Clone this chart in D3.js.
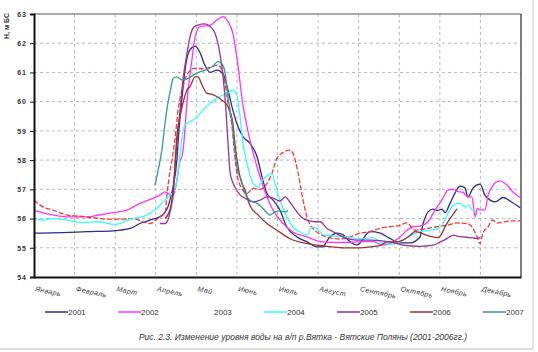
<!DOCTYPE html>
<html>
<head>
<meta charset="utf-8">
<script src="https://cdn.jsdelivr.net/npm/d3@7/dist/d3.min.js"></script>
<style>
    body { margin: 0; background: #fff; }
    svg { font-family: Arial, "Liberation Sans", sans-serif; display: block; }
</style>
</head>
<body>
<svg id="chart" width="538" height="352"></svg>
<script>
// Month labels (x = month index, 0..12)
const months = ['Январь', 'Февраль', 'Март', 'Апрель', 'Май', 'Июнь',
                'Июль', 'Август', 'Сентябрь', 'Октябрь', 'Ноябрь', 'Декабрь'];
const yTicks = [54, 55, 56, 57, 58, 59, 60, 61, 62, 63];

// Water level, m BS: [month position, level]
const y2001 = [[0,55.5],[0.71,55.52],[1.31,55.55],[1.95,55.58],[2.37,55.66],[2.61,55.83],[2.93,55.98],[3.10,56.06],[3.22,56.2],[3.30,56.4],[3.38,56.8],[3.43,57.1],[3.52,58.0],[3.57,59.0],[3.65,60.16],[3.72,61.08],[3.84,61.77],[3.97,61.9],[4.09,61.68],[4.21,61.25],[4.34,61.0],[4.51,61.08],[4.66,60.94],[4.78,60.4],[4.90,59.71],[5.03,59.13],[5.15,58.8],[5.32,58.58],[5.50,58.1],[5.62,57.42],[5.74,56.86],[5.89,56.63],[6.06,56.29],[6.23,55.71],[6.48,55.37],[6.73,55.2],[6.97,55.03],[7.10,55.03],[7.29,55.37],[7.47,55.5],[7.61,55.45],[7.79,55.2],[7.96,55.1],[8.28,55.55],[8.53,55.5],[8.77,55.32],[9.02,55.17],[9.27,55.17],[9.51,55.37],[9.59,55.83],[9.71,56.23],[9.83,56.32],[9.96,56.28],[10.05,56.32],[10.13,56.2],[10.25,56.52],[10.37,56.86],[10.50,57.11],[10.62,57.05],[10.69,56.74],[10.82,57.05],[10.99,57.18],[11.11,56.8],[11.24,56.63],[11.36,56.57],[11.56,56.72],[11.73,56.6],[11.98,56.37]];
const y2002 = [[0,56.29],[0.39,56.14],[0.81,56.06],[1.31,56.06],[1.63,56.13],[1.95,56.2],[2.29,56.29],[2.61,56.52],[2.93,56.69],[3.10,56.8],[3.23,56.91],[3.30,56.86],[3.43,56.8],[3.52,57.3],[3.57,57.8],[3.67,58.3],[3.79,60.3],[3.89,61.42],[3.97,62.22],[4.09,62.57],[4.34,62.62],[4.51,62.8],[4.66,62.91],[4.76,62.78],[4.90,62.34],[5.03,61.2],[5.13,60.05],[5.25,59.13],[5.40,58.24],[5.57,57.42],[5.74,56.74],[5.89,56.29],[6.14,55.83],[6.38,55.54],[6.73,55.37],[7.12,55.2],[7.54,55.18],[7.96,55.2],[8.35,55.22],[8.60,55.09],[8.85,55.2],[9.02,55.37],[9.19,55.6],[9.34,55.72],[9.51,55.74],[9.71,55.89],[9.88,56.29],[10.05,56.63],[10.20,56.97],[10.33,57.0],[10.45,56.92],[10.57,56.9],[10.69,56.74],[10.79,56.74],[10.87,56.06],[10.92,56.35],[10.99,56.3],[11.11,56.3],[11.19,56.8],[11.31,57.14],[11.48,57.29],[11.66,57.14],[11.80,56.91],[11.98,56.72]];
const y2003 = [[0,56.63],[0.22,56.4],[0.47,56.29],[0.81,56.12],[1.13,56.08],[1.45,56.03],[1.80,55.98],[2.12,55.98],[2.44,56.0],[2.69,55.89],[2.86,55.83],[3.03,55.98],[3.15,56.1],[3.23,56.2],[3.28,56.86],[3.32,57.32],[3.40,58.0],[3.47,58.68],[3.55,59.71],[3.67,60.51],[3.79,60.97],[3.97,61.15],[4.16,61.12],[4.39,61.2],[4.53,61.25],[4.66,60.97],[4.78,59.95],[4.88,59.13],[4.95,58.1],[5.03,57.32],[5.25,56.86],[5.40,57.03],[5.57,57.0],[5.74,57.2],[5.86,57.54],[5.99,58.07],[6.11,58.24],[6.31,58.34],[6.38,58.24],[6.51,57.54],[6.63,56.63],[6.75,55.95],[6.97,55.54],[7.22,55.37],[7.54,55.3],[7.79,55.37],[8.03,55.5],[8.28,55.55],[8.53,55.67],[8.77,55.72],[9.02,55.77],[9.19,55.85],[9.39,55.6],[9.51,55.62],[9.93,55.72],[10.18,55.77],[10.42,55.85],[10.67,55.83],[10.79,55.72],[10.92,55.37],[10.99,55.14],[11.06,55.5],[11.19,55.72],[11.29,55.95],[11.41,55.85],[11.56,55.88],[11.73,55.92],[11.98,55.92]];
const y2004 = [[0,56.0],[0.22,55.95],[0.47,56.0],[0.81,55.95],[1.13,55.87],[1.63,55.89],[1.95,55.8],[2.12,55.83],[2.29,55.95],[2.44,56.0],[2.78,56.12],[3.03,56.35],[3.18,56.57],[3.35,56.8],[3.43,56.9],[3.52,57.3],[3.55,57.54],[3.60,58.2],[3.65,58.8],[3.72,59.2],[3.84,59.31],[4.02,59.48],[4.16,59.71],[4.34,59.95],[4.51,60.12],[4.66,60.22],[4.78,60.29],[4.90,60.4],[5.00,60.2],[5.08,59.45],[5.15,58.58],[5.27,57.76],[5.40,57.2],[5.52,57.08],[5.64,57.32],[5.77,57.49],[5.86,57.54],[5.94,57.2],[6.06,56.63],[6.23,56.05],[6.38,55.71],[6.56,55.54],[6.73,55.43],[6.85,55.71],[6.97,55.65],[7.12,55.45],[7.37,55.4],[7.71,55.37],[8.03,55.3],[8.35,55.35],[8.53,55.2],[8.77,55.12],[9.02,55.2],[9.22,55.37],[9.39,55.49],[9.51,55.55],[9.76,55.6],[9.96,55.65],[10.08,55.83],[10.20,56.17],[10.33,56.46],[10.50,56.52],[10.62,56.4],[10.72,56.46],[10.79,56.3],[10.87,56.29]];
const y2005 = [[3.10,55.83],[3.23,55.83],[3.30,55.95],[3.38,56.4],[3.43,56.8],[3.47,57.66],[3.52,58.58],[3.60,59.71],[3.67,60.74],[3.77,61.65],[3.84,62.18],[3.92,62.52],[4.04,62.62],[4.21,62.66],[4.34,62.57],[4.46,62.34],[4.58,61.65],[4.66,60.85],[4.73,59.71],[4.78,58.58],[4.83,57.6],[4.88,57.3],[4.95,57.08],[5.08,56.8],[5.20,56.7],[5.40,56.57],[5.57,56.63],[5.74,56.74],[5.89,56.7],[6.06,56.6],[6.19,56.74],[6.31,56.55],[6.48,56.23],[6.63,56.0],[6.80,55.92],[6.92,55.89],[7.05,55.89],[7.22,55.66],[7.37,55.55],[7.61,55.37],[7.96,55.26],[8.28,55.26],[8.77,55.2],[9.09,55.09],[9.51,55.05],[9.83,55.09],[10.01,55.2],[10.18,55.32],[10.33,55.43],[10.50,55.38],[10.74,55.35],[10.92,55.32],[10.99,55.35]];
const y2006 = [[3.23,56.0],[3.35,56.3],[3.43,57.0],[3.52,58.8],[3.65,59.82],[3.77,60.4],[3.84,60.51],[3.97,60.85],[4.04,60.85],[4.14,60.57],[4.26,60.29],[4.39,60.25],[4.51,60.17],[4.63,60.05],[4.76,59.88],[4.83,59.65],[4.90,59.27],[4.95,58.58],[5.03,57.76],[5.08,57.4],[5.20,56.97],[5.32,56.45],[5.50,56.15],[5.74,55.83],[5.99,55.6],[6.31,55.31],[6.73,55.14],[7.22,55.05],[7.71,55.0],[8.03,55.0],[8.28,55.03],[8.53,55.08],[8.70,55.2],[8.95,55.2],[9.09,55.26],[9.27,55.43],[9.39,55.55],[9.51,55.52],[9.68,55.43],[9.83,55.37],[9.96,55.35],[10.05,55.49],[10.13,55.72],[10.25,56.0],[10.37,56.23],[10.42,56.33]];
const y2007 = [[2.98,57.14],[3.06,57.66],[3.15,58.34],[3.23,59.27],[3.30,59.95],[3.38,60.51],[3.43,60.8],[3.52,60.85],[3.65,60.74],[3.77,60.78],[3.92,60.91],[4.09,61.02],[4.26,61.1],[4.41,61.22],[4.53,61.37],[4.63,61.3],[4.71,60.97],[4.78,60.16],[4.88,59.27],[4.95,58.34],[5.03,57.54],[5.08,57.43],[5.20,56.86],[5.32,56.63],[5.50,56.52],[5.64,56.35],[5.82,56.12],[5.94,56.23],[6.06,56.26],[6.19,56.23],[6.26,56.27]];

const years = ['2001', '2002', '2003', '2004', '2005', '2006', '2007'];
const yearData = [y2001, y2002, y2003, y2004, y2005, y2006, y2007];
const colors = ['#2b2b8c', '#ff33ff', '#ff3333', '#33ffff', '#993399', '#993333', '#339999'];

const svg = d3.select('#chart');
const margin = { top: 14, right: 17, bottom: 75, left: 34 };
const width = 538 - margin.left - margin.right;
const height = 352 - margin.top - margin.bottom;

const x = d3.scaleLinear().domain([0, 12]).range([margin.left, margin.left + width]);
const y = d3.scaleLinear().domain([54, 63]).range([margin.top + height, margin.top]);

// Outer frame shadow
svg.append('line')
    .attr('x1', 533).attr('x2', 533).attr('y1', 0).attr('y2', 349)
    .style('stroke', '#dcdcdc').style('stroke-width', 1.5);
svg.append('line')
    .attr('x1', 0).attr('x2', 533).attr('y1', 349).attr('y2', 349)
    .style('stroke', '#dcdcdc').style('stroke-width', 2);

// Grid
const grid = svg.append('g').attr('class', 'grid');
grid.selectAll('.hgrid')
    .data(yTicks.filter(d => d > 54 && d < 63))
    .enter().append('line')
    .attr('x1', x(0)).attr('x2', x(12))
    .attr('y1', d => y(d)).attr('y2', d => y(d))
    .style('stroke', '#b8b8b8').style('stroke-dasharray', '3,3');
grid.selectAll('.vgrid')
    .data(d3.range(1, 12))
    .enter().append('line')
    .attr('x1', d => x(d)).attr('x2', d => x(d))
    .attr('y1', y(63)).attr('y2', y(54))
    .style('stroke', '#b8b8b8').style('stroke-dasharray', '3,3');

// Top and right border
svg.append('line')
    .attr('x1', x(0)).attr('x2', x(12)).attr('y1', y(63)).attr('y2', y(63))
    .style('stroke', '#8c8c8c').style('stroke-width', 1.5);
svg.append('line')
    .attr('x1', x(12)).attr('x2', x(12)).attr('y1', y(63)).attr('y2', y(54))
    .style('stroke', '#555').style('stroke-width', 1.5);

// Series lines
const line = d3.line()
    .x(d => x(d[0]))
    .y(d => y(d[1]))
    .curve(d3.curveMonotoneX);

const lines = svg.append('g');
yearData.forEach((data, i) => {
    lines.append('path')
        .datum(data)
        .attr('d', line)
        .style('fill', 'none')
        .style('stroke', colors[i])
        .style('stroke-width', 1.3)
        .style('stroke-dasharray', years[i] === '2003' ? '5,2' : null);
});

// Y-axis
const yAxis = svg.append('g')
    .attr('transform', `translate(${margin.left},0)`)
    .call(d3.axisLeft(y).tickValues(yTicks).tickSize(4).tickFormat(d => d));
yAxis.select('.domain').style('stroke', '#111').style('stroke-width', 2);
yAxis.selectAll('.tick line').style('stroke', '#111');
yAxis.selectAll('text')
    .attr('x', -7)
    .style('font-size', '7px')
    .style('font-weight', 'bold')
    .style('letter-spacing', '1px')
    .style('fill', '#333');

svg.append('text')
    .attr('transform', 'translate(9,26) rotate(-90)')
    .attr('text-anchor', 'middle')
    .style('font-size', '7px')
    .style('font-weight', 'bold')
    .style('fill', '#333')
    .text('Н, м БС');

// X-axis
const xAxis = svg.append('g')
    .attr('transform', `translate(0,${margin.top + height})`)
    .call(d3.axisBottom(x).tickValues(d3.range(0, 13)).tickSize(0).tickFormat(''));
xAxis.select('.domain').style('stroke', '#111').style('stroke-width', 2);

svg.selectAll('.month-label')
    .data(months)
    .enter().append('text')
    .attr('class', 'month-label')
    .attr('transform', (d, i) => `translate(${x(i) + 1},${margin.top + height + 14}) rotate(12)`)
    .style('font-size', '7px')
    .style('font-style', 'italic')
    .style('letter-spacing', '0.4px')
    .style('fill', '#333')
    .text(d => d);

// Legend
const legend = svg.append('g').attr('transform', 'translate(45,312)');
years.forEach((yr, i) => {
    const lg = legend.append('g').attr('transform', `translate(${i * 73},0)`);
    if (yr !== '2003') {
        lg.append('line')
            .attr('x1', 0).attr('x2', 23).attr('y1', 0).attr('y2', 0)
            .style('stroke', colors[i]).style('stroke-width', 1.5);
    }
    lg.append('text')
        .attr('x', 23).attr('y', 3)
        .style('font-size', '8px')
        .style('fill', '#333')
        .text(yr);
});

// Caption
svg.append('text')
    .attr('x', 303).attr('y', 340)
    .attr('text-anchor', 'middle')
    .style('font-size', '8.5px')
    .style('font-style', 'italic')
    .style('fill', '#333')
    .text('Рис. 2.3. Изменение уровня воды на в/п р.Вятка - Вятские Поляны (2001-2006гг.)');
</script>
</body>
</html>
